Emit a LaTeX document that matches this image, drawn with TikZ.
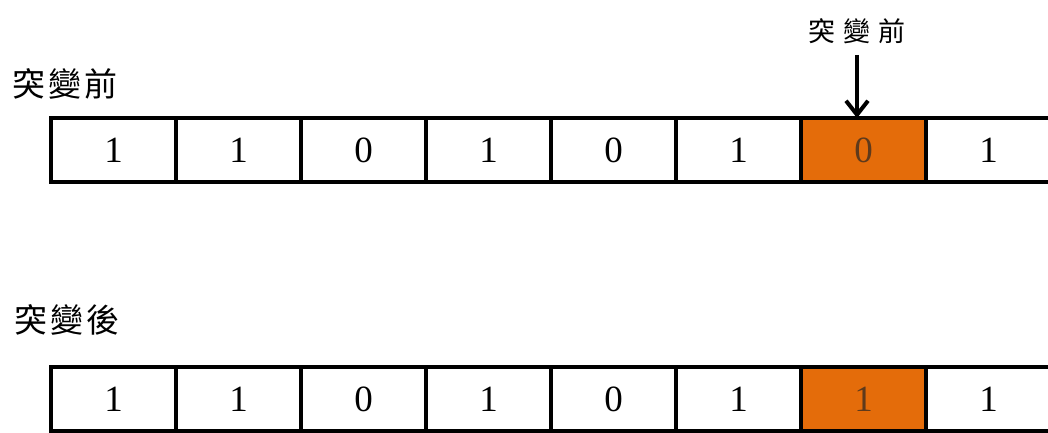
\documentclass[tikz,border=0pt]{standalone}
\usepackage{fontspec}
\setmainfont{Liberation Serif}
\newfontfamily\cjk{Noto Sans CJK TC}
\usetikzlibrary{arrows.meta}
\definecolor{mutorange}{HTML}{E46C0A}
\definecolor{muttext}{HTML}{5E3A1C}
\begin{document}
\begin{tikzpicture}[x=1pt,y=1pt,
  cell/.style={draw=black,line width=4.5pt,minimum width=125pt,minimum height=64pt,
    inner sep=0pt,outer sep=0pt,font=\fontsize{37}{40}\selectfont,fill=white},
  hot/.style={cell,fill=mutorange,text=muttext},
  biglabel/.style={font=\cjk\fontsize{33}{36}\selectfont,inner sep=0pt,anchor=west},
  smalllabel/.style={font=\cjk\fontsize{27}{30}\selectfont,inner sep=0pt},
  pointer/.style={line width=4pt,-{Straight Barb[length=14pt,width=22pt,line width=4pt]}}
]
\useasboundingbox (0,0) rectangle (1048,432);
\clip (0,0) rectangle (1048,432);
% labels
\node[biglabel] (before) at (12,348) {突\hspace{3pt}變\hspace{3pt}前};
\node[biglabel] (after) at (14,112) {突\hspace{3pt}變\hspace{3pt}後};
\node[smalllabel] (ptr) at (857,401) {突\hspace{8pt}變\hspace{8pt}前};
% row 1
\foreach \v [count=\i] in {1,1,0,1,0,1,0,1} {
  \ifnum\i=7
    \node[hot] (a\i) at ({51+62.5+125*(\i-1)},282) {\v};
  \else
    \node[cell] (a\i) at ({51+62.5+125*(\i-1)},282) {\v};
  \fi
}
% row 2
\foreach \v [count=\i] in {1,1,0,1,0,1,1,1} {
  \ifnum\i=7
    \node[hot] (b\i) at ({51+62.5+125*(\i-1)},33) {\v};
  \else
    \node[cell] (b\i) at ({51+62.5+125*(\i-1)},33) {\v};
  \fi
}
\draw[pointer,shorten <=11pt] (ptr.south) -- (ptr.south |- a7.north);
\end{tikzpicture}
\end{document}
